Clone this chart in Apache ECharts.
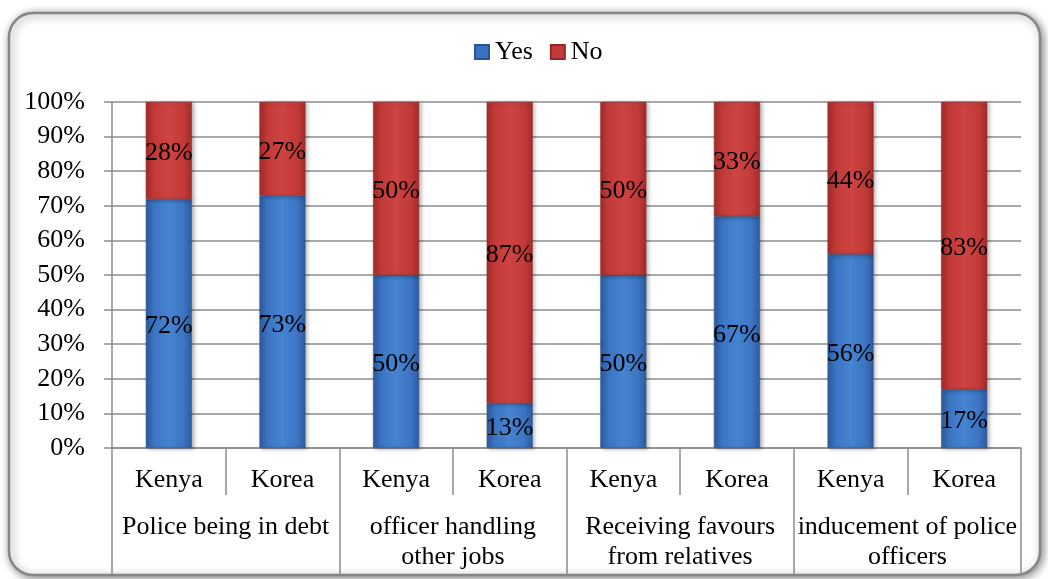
<!DOCTYPE html>
<html>
<head>
<meta charset="utf-8">
<script src="https://cdn.jsdelivr.net/npm/echarts@6/dist/echarts.min.js"></script>
<style>
  html, body { margin: 0; padding: 0; background: #ffffff; }
  #chart { width: 1048px; height: 579px; }
</style>
</head>
<body>
<div id="chart"></div>
<script>
// Countries compared within each question
const countries = ['Kenya', 'Korea', 'Kenya', 'Korea', 'Kenya', 'Korea', 'Kenya', 'Korea'];
// Question groups (two countries each)
const questions = [
  'Police being in debt',
  'officer handling\nother jobs',
  'Receiving favours\nfrom relatives',
  'inducement of police\nofficers'
];
// Share of respondents (%)
const yesValues = [72, 73, 50, 13, 50, 67, 56, 17];
const noValues = [28, 27, 50, 87, 50, 33, 44, 83];
const yTicks = [0, 10, 20, 30, 40, 50, 60, 70, 80, 90, 100];

const FONT = '"Liberation Serif", "Times New Roman", serif';
const FS = 26;
const GREY = '#8c8c8c';

function barGradient(edge, mid, centre) {
  return new echarts.graphic.LinearGradient(0, 0, 1, 0, [
    { offset: 0, color: edge },
    { offset: 0.18, color: mid },
    { offset: 0.5, color: centre },
    { offset: 0.82, color: mid },
    { offset: 1, color: edge }
  ]);
}

const blueFill = barGradient('#2d5c9e', '#3b74c2', '#4584d2');
const redFill = barGradient('#a22c2a', '#c23a38', '#cd4442');

const labelStyle = {
  show: true,
  position: 'inside',
  offset: [0, 3],
  formatter: p => p.value + '%',
  fontFamily: FONT,
  fontSize: FS,
  color: '#000000'
};

const chart = echarts.init(document.getElementById('chart'), null, { renderer: 'canvas' });

chart.setOption({
  backgroundColor: '#ffffff',
  animation: false,
  graphic: [{
    type: 'rect',
    z: -10,
    shape: { x: 9, y: 13, width: 1031, height: 562, r: 24 },
    style: {
      fill: '#ffffff',
      stroke: '#858585',
      lineWidth: 2.5,
      shadowBlur: 8,
      shadowColor: 'rgba(0,0,0,0.45)',
      shadowOffsetX: 2,
      shadowOffsetY: 2
    }
  }],
  legend: {
    left: 469,
    top: 34,
    itemWidth: 14,
    itemHeight: 14,
    itemGap: 17,
    icon: 'rect',
    textStyle: { fontFamily: FONT, fontSize: FS, color: '#000000', padding: [0, 0, 0, 1] },
    data: [
      { name: 'Yes', itemStyle: { color: '#3a72bf' } },
      { name: 'No', itemStyle: { color: '#c13b39' } }
    ]
  },
  grid: { left: 112, right: 27, top: 102, bottom: 131, containLabel: false },
  xAxis: [
    {
      type: 'category',
      data: countries,
      axisLine: { show: true, lineStyle: { color: GREY, width: 1.5 } },
      axisTick: { show: true, interval: 0, length: 47, lineStyle: { color: GREY, width: 1.5 } },
      axisLabel: {
        interval: 0,
        margin: 19,
        lineHeight: 26,
        fontFamily: FONT,
        fontSize: FS,
        color: '#000000'
      }
    },
    {
      type: 'category',
      position: 'bottom',
      data: questions,
      axisLine: { show: false },
      axisTick: { show: true, interval: 0, length: 127, lineStyle: { color: GREY, width: 1.5 } },
      axisLabel: {
        interval: 0,
        margin: 64,
        lineHeight: 30,
        fontFamily: FONT,
        fontSize: FS,
        color: '#000000'
      }
    }
  ],
  yAxis: {
    type: 'value',
    min: yTicks[0],
    max: yTicks[yTicks.length - 1],
    interval: 10,
    axisLine: { show: true, lineStyle: { color: GREY, width: 1.5 } },
    axisTick: { show: true, length: 8, lineStyle: { color: GREY, width: 1.5 } },
    splitLine: { show: true, lineStyle: { color: GREY, width: 1.5 } },
    axisLabel: {
      margin: 27,
      formatter: v => v + '%',
      fontFamily: FONT,
      fontSize: FS,
      color: '#000000'
    }
  },
  series: [
    {
      name: 'Yes',
      type: 'bar',
      stack: 'share',
      xAxisIndex: 0,
      barWidth: 46,
      data: yesValues,
      itemStyle: {
        color: blueFill,
        borderColor: '#2a5592',
        borderWidth: 0.5,
        shadowBlur: 4,
        shadowColor: 'rgba(0,0,0,0.3)',
        shadowOffsetX: 2,
        shadowOffsetY: 1
      },
      label: labelStyle
    },
    {
      name: 'No',
      type: 'bar',
      stack: 'share',
      xAxisIndex: 0,
      barWidth: 46,
      data: noValues,
      itemStyle: {
        color: redFill,
        borderColor: '#952826',
        borderWidth: 0.5,
        shadowBlur: 4,
        shadowColor: 'rgba(0,0,0,0.3)',
        shadowOffsetX: 2,
        shadowOffsetY: 1
      },
      label: labelStyle
    }
  ]
});
</script>
</body>
</html>
